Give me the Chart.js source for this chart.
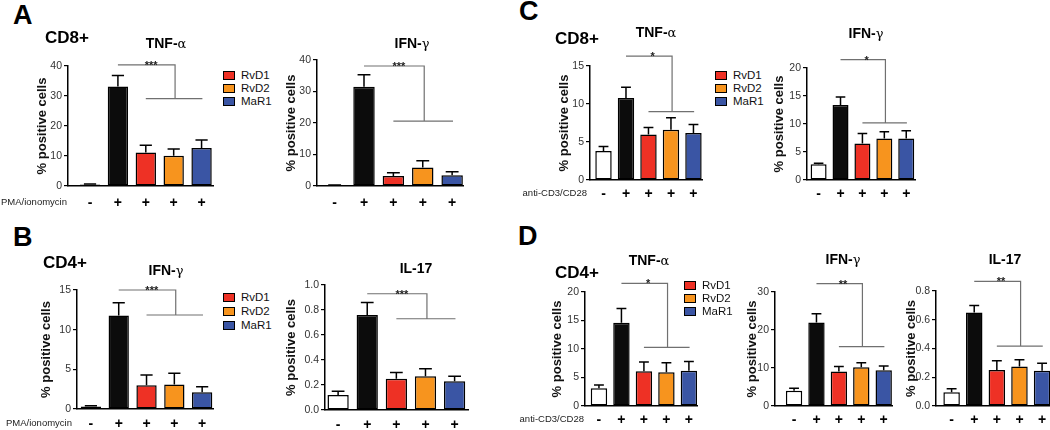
<!DOCTYPE html>
<html>
<head>
<meta charset="utf-8">
<title>Pro-resolving mediators and T cell cytokines</title>
<script src="https://cdn.jsdelivr.net/npm/chart.js"></script>
<style>
  body { margin: 0; width: 1050px; height: 430px; overflow: hidden; background: #fff; position: relative;
         font-family: "Liberation Sans", Arial, sans-serif; color: #000; }
  canvas, .t, .box { position: absolute; }
  .t { white-space: nowrap; line-height: 1; }
  .letter { font-size: 27px; font-weight: bold; }
  .cell { font-size: 17px; font-weight: bold; }
  .ttl { font-size: 14px; font-weight: bold; }
  .ttl span { font-weight: normal; font-family: "DejaVu Serif", serif; font-size: 13px; }
  .stim { font-size: 9.5px; color: #222; }
  .lg { font-size: 11.5px; color: #111; }
  .box { width: 10px; height: 7px; border: 1.5px solid #000; }
</style>
</head>
<body>
<script>
const categories = ['-', '+', '+', '+', '+'];
const treatments = ['RvD1', 'RvD2', 'MaR1'];

// A: CD8+, PMA/ionomycin
const a1Mean = [0.5, 33.2, 11.2, 10.1, 12.7];   // TNF-a
const a1Sem  = [0.2, 3.6, 2.4, 2.2, 2.6];
const a1Sig  = [40.4, 29.1];
const a2Mean = [0.2, 31.5, 3.2, 5.9, 3.4];      // IFN-g
const a2Sem  = [0.1, 3.8, 1.0, 2.1, 1.1];
const a2Sig  = [38.1, 20.6];

// B: CD4+, PMA/ionomycin
const b1Mean = [0.3, 11.8, 3.0, 3.1, 2.1];      // IFN-g
const b1Sem  = [0.1, 1.6, 1.3, 1.4, 0.7];
const b1Sig  = [15.0, 11.85];
const b2Mean = [0.12, 0.76, 0.25, 0.27, 0.23];  // IL-17
const b2Sem  = [0.03, 0.10, 0.05, 0.06, 0.04];
const b2Sig  = [0.93, 0.73];

// C: CD8+, anti-CD3/CD28
const c1Mean = [3.8, 10.8, 6.0, 6.6, 6.2];      // TNF-a
const c1Sem  = [0.6, 1.4, 0.9, 1.6, 1.1];
const c1Sig  = [16.3, 9.0];
const c2Mean = [2.8, 13.4, 6.5, 7.4, 7.4];      // IFN-g
const c2Sem  = [0.2, 1.4, 1.8, 1.2, 1.4];
const c2Sig  = [21.5, 10.2];

// D: CD4+, anti-CD3/CD28
const d1Mean = [3.1, 14.6, 6.1, 5.9, 6.2];      // TNF-a
const d1Sem  = [0.6, 2.5, 1.6, 1.7, 1.6];
const d1Sig  = [21.5, 10.3];
const d2Mean = [4.0, 22.0, 9.1, 10.2, 9.4];     // IFN-g
const d2Sem  = [0.7, 2.3, 1.3, 1.2, 1.1];
const d2Sig  = [32.2, 15.6];
const d3Mean = [0.095, 0.65, 0.25, 0.275, 0.245]; // IL-17
const d3Sem  = [0.025, 0.05, 0.065, 0.047, 0.052];
const d3Sig  = [0.867, 0.416];

const fills = ['#ffffff', '#0c0c0c', '#ee3125', '#f7941e', '#3a55a4'];
const PT = 30, PR = 6, XH = 24;

const panels = [
  { mean: a1Mean, sem: a1Sem, sig: a1Sig, stars: '***', max: 40, step: 10, dec: 0, x0: 68, x1: 213, top: 66, zero: 186, yw: 33, xmin: -0.79, xmax: 4.41, tp: 1 },
  { mean: a2Mean, sem: a2Sem, sig: a2Sig, stars: '***', max: 40, step: 10, dec: 0, x0: 317, x1: 463, top: 60, zero: 186, yw: 33, xmin: -0.6, xmax: 4.37, tp: 1 },
  { mean: b1Mean, sem: b1Sem, sig: b1Sig, stars: '***', max: 15, step: 5, dec: 0, x0: 77, x1: 213, top: 290, zero: 409, yw: 38, xmin: -0.5, xmax: 4.39, tp: -1 },
  { mean: b2Mean, sem: b2Sem, sig: b2Sig, stars: '***', max: 1.0, step: 0.2, dec: 1, x0: 325, x1: 468, top: 285, zero: 410, yw: 41, xmin: -0.45, xmax: 4.46, tp: -1 },
  { mean: c1Mean, sem: c1Sem, sig: c1Sig, stars: '*', max: 15, step: 5, dec: 0, x0: 590, x1: 702, top: 66, zero: 180, yw: 33, xmin: -0.6, xmax: 4.38, tp: -2 },
  { mean: c2Mean, sem: c2Sem, sig: c2Sig, stars: '*', max: 20, step: 5, dec: 0, x0: 807, x1: 915, top: 68, zero: 180, yw: 35, xmin: -0.53, xmax: 4.4, tp: -2 },
  { mean: d1Mean, sem: d1Sem, sig: d1Sig, stars: '*', max: 20, step: 5, dec: 0, x0: 585, x1: 697, top: 292, zero: 406, yw: 35, xmin: -0.62, xmax: 4.36, tp: -2 },
  { mean: d2Mean, sem: d2Sem, sig: d2Sig, stars: '**', max: 30, step: 10, dec: 0, x0: 775, x1: 892, top: 292, zero: 406, yw: 30, xmin: -0.85, xmax: 4.37, tp: -2 },
  { mean: d3Mean, sem: d3Sem, sig: d3Sig, stars: '**', max: 0.8, step: 0.2, dec: 1, x0: 936, x1: 1050, top: 291, zero: 406, yw: 32, xmin: -0.69, xmax: 4.35, tp: -2 }
];

Chart.defaults.font.family = '"Liberation Sans", Arial, sans-serif';
Chart.defaults.animation = false;

// upward SEM bars
const errorBars = {
  id: 'errorBars',
  afterDatasetsDraw(chart, args, opts) {
    const ctx = chart.ctx, y = chart.scales.y;
    chart.getDatasetMeta(0).data.forEach((bar, i) => {
      const yt = y.getPixelForValue(opts.mean[i] + opts.sem[i]);
      const half = bar.width * 0.3;
      ctx.save();
      ctx.strokeStyle = '#000';
      ctx.lineWidth = 1.5;
      ctx.beginPath();
      ctx.moveTo(bar.x, bar.y);
      ctx.lineTo(bar.x, yt);
      ctx.moveTo(bar.x - half, yt);
      ctx.lineTo(bar.x + half, yt);
      ctx.stroke();
      ctx.restore();
    });
  }
};

// significance bracket: control vs treated groups
const bracket = {
  id: 'bracket',
  afterDraw(chart, args, opts) {
    const ctx = chart.ctx, x = chart.scales.x, y = chart.scales.y;
    const y1 = y.getPixelForValue(opts.levels[0]), y2 = y.getPixelForValue(opts.levels[1]);
    const xa = x.getPixelForValue(1), xb = x.getPixelForValue(3.05);
    const xc = x.getPixelForValue(2), xd = x.getPixelForValue(4.03);
    ctx.save();
    ctx.strokeStyle = '#707070';
    ctx.lineWidth = 1.2;
    ctx.beginPath();
    ctx.moveTo(xa, y1); ctx.lineTo(xb, y1); ctx.lineTo(xb, y2);
    ctx.moveTo(xc, y2); ctx.lineTo(xd, y2);
    ctx.stroke();
    ctx.fillStyle = '#222';
    ctx.font = 'bold 11px "Liberation Sans", Arial';
    ctx.textAlign = 'center';
    ctx.textBaseline = 'alphabetic';
    ctx.fillText(opts.stars, xa + 0.58 * (xb - xa), y1 + 4);
    ctx.restore();
  }
};

panels.forEach(p => {
  const cv = document.createElement('canvas');
  const w = p.yw + (p.x1 - p.x0) + PR;
  const h = PT + (p.zero - p.top) + XH;
  cv.width = w; cv.height = h;
  cv.style.left = (p.x0 - p.yw) + 'px';
  cv.style.top = (p.top - PT) + 'px';
  document.body.appendChild(cv);

  new Chart(cv, {
    type: 'bar',
    data: {
      datasets: [{
        data: p.mean.map((v, i) => ({ x: i, y: v })),
        backgroundColor: fills,
        borderColor: '#000',
        borderWidth: 1.5,
        borderSkipped: false,
        barPercentage: 0.73,
        categoryPercentage: 1
      }]
    },
    options: {
      responsive: false,
      devicePixelRatio: 1,
      events: [],
      layout: { padding: { top: PT, right: PR, left: 0, bottom: 0 } },
      plugins: {
        legend: { display: false },
        tooltip: { enabled: false },
        errorBars: { mean: p.mean, sem: p.sem },
        bracket: { levels: p.sig, stars: p.stars }
      },
      scales: {
        x: {
          type: 'linear',
          min: p.xmin,
          max: p.xmax,
          offset: false,
          afterBuildTicks: axis => { axis.ticks = categories.map((c, i) => ({ value: i })); },
          afterFit: axis => { axis.height = XH; },
          grid: { display: false, offset: false },
          border: { display: true, color: '#000', width: 1.5 },
          ticks: {
            autoSkip: false, maxRotation: 0, padding: p.tp,
            color: '#000', font: { size: 14, weight: 'bold' },
            callback: v => categories[v]
          }
        },
        y: {
          min: 0,
          max: p.max,
          afterFit: axis => { axis.width = p.yw; },
          grid: { drawOnChartArea: false, drawTicks: true, tickLength: 4, color: '#000', lineWidth: 1.2 },
          border: { display: true, color: '#000', width: 1.5 },
          ticks: {
            stepSize: p.step, padding: 2, color: '#333', font: { size: 10.5 },
            callback: v => Number(v).toFixed(p.dec)
          },
          title: {
            display: true, text: '% positive cells', color: '#111',
            font: { size: 13, weight: 'bold' }, padding: { top: 0, bottom: 0 }
          }
        }
      }
    },
    plugins: [errorBars, bracket]
  });
});

function addText(html, x, y, cls, anchor) {
  const d = document.createElement('div');
  d.className = 't ' + cls;
  d.innerHTML = html;
  d.style.left = x + 'px';
  d.style.top = y + 'px';
  const tx = anchor === 'center' ? '-50%' : anchor === 'right' ? '-100%' : '0';
  d.style.transform = 'translate(' + tx + ', -50%)';
  document.body.appendChild(d);
}

function legend(x, rows) {
  treatments.forEach((name, i) => {
    const b = document.createElement('div');
    b.className = 'box';
    b.style.left = x + 'px';
    b.style.top = (rows[i] - 5) + 'px';
    b.style.background = fills[i + 2];
    document.body.appendChild(b);
    addText(name, x + 18, rows[i], 'lg', 'left');
  });
}

const alpha = 'TNF-<span>\u03b1</span>';
const gamma = 'IFN-<span>\u03b3</span>';

addText('A', 13, 15, 'letter', 'left');
addText('B', 13, 237, 'letter', 'left');
addText('C', 519, 11, 'letter', 'left');
addText('D', 518, 236, 'letter', 'left');

addText('CD8+', 45, 37, 'cell', 'left');
addText('CD4+', 43, 262, 'cell', 'left');
addText('CD8+', 555, 38, 'cell', 'left');
addText('CD4+', 555, 272, 'cell', 'left');

addText(alpha, 166, 43, 'ttl', 'center');
addText(gamma, 412, 43, 'ttl', 'center');
addText(gamma, 166, 270, 'ttl', 'center');
addText('IL-17', 416, 268, 'ttl', 'center');
addText(alpha, 656, 32, 'ttl', 'center');
addText(gamma, 866, 33, 'ttl', 'center');
addText(alpha, 649, 260, 'ttl', 'center');
addText(gamma, 843, 259, 'ttl', 'center');
addText('IL-17', 1005, 259, 'ttl', 'center');

addText('PMA/ionomycin', 67, 202, 'stim', 'right');
addText('PMA/ionomycin', 72, 423, 'stim', 'right');
addText('anti-CD3/CD28', 587, 193, 'stim', 'right');
addText('anti-CD3/CD28', 584, 419, 'stim', 'right');

legend(223, [76, 89, 102]);
legend(223, [298, 312, 326]);
legend(715, [76, 89, 102]);
legend(684, [286, 299, 312]);
</script>
</body>
</html>
